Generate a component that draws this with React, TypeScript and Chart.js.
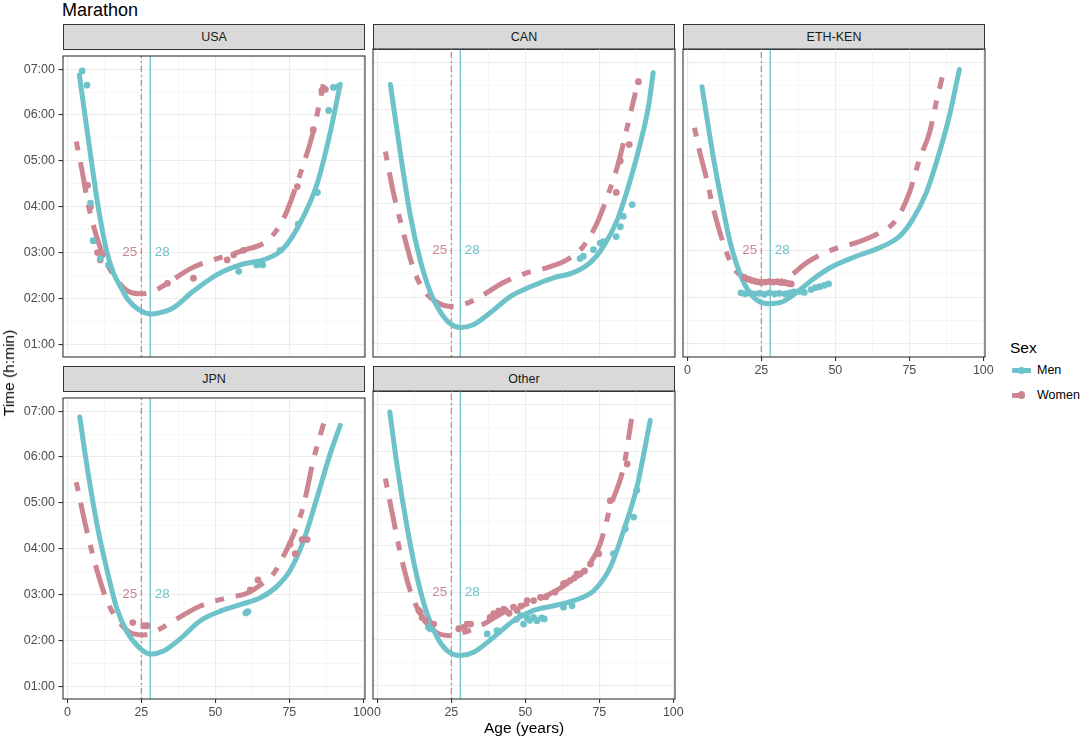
import React, { useEffect, useRef } from "react";
import { Chart, registerables } from "chart.js";

Chart.register(...registerables);

// ---------- style constants ----------
const MEN_COLOR = "#6DC3C9";
const WOMEN_COLOR = "#CC8591";
const FONT = "'Liberation Sans', Arial, Helvetica, sans-serif";

// ---------- axes ----------
const X_MIN = -1.48;
const X_MAX = 100.57;
const Y_MIN = 0.723;
const Y_MAX = 7.286;
const xTicks = [0, 12.5, 25, 37.5, 50, 62.5, 75, 87.5, 100];
const xMajorTicks = [0, 25, 50, 75, 100];
const yTicks = [1, 1.5, 2, 2.5, 3, 3.5, 4, 4.5, 5, 5.5, 6, 6.5, 7];
const yMajorTicks = [1, 2, 3, 4, 5, 6, 7];
const yTickLabels = ["01:00", "02:00", "03:00", "04:00", "05:00", "06:00", "07:00"];

// peak-performance ages and label height (h)
const WOMEN_PEAK_AGE = 25;
const MEN_PEAK_AGE = 28;
const PEAK_LABEL_TIME = 3.0;

// ---------- data: [age, time in hours] ----------
const usaMenCurve = [[4.05, 6.87], [6.1, 5.92], [8.0, 5.05], [10.4, 4.0], [13.2, 3.05], [15.6, 2.55], [18, 2.25], [20.2, 2.0], [24, 1.76], [28.6, 1.66], [32, 1.7], [35.9, 1.8], [42.6, 2.16], [50.6, 2.52], [58.4, 2.73], [67.5, 2.87], [72.9, 3.08], [78.7, 3.65], [84.4, 4.5], [88.9, 5.64], [92.2, 6.67]];
const usaWomenCurve = [[3.0, 5.42], [4.4, 4.98], [7.2, 4.0], [11.7, 3.0], [15.7, 2.5], [20.2, 2.17], [24.7, 2.1], [29.1, 2.16], [33.8, 2.33], [41.6, 2.65], [50.6, 2.87], [59.5, 3.05], [67.5, 3.26], [72.9, 3.72], [78.7, 4.72], [83.1, 5.64], [86.5, 6.67]];
const usaMenPoints = [[5, 6.96], [6.6, 6.65], [7.8, 4.08], [8.7, 3.26], [11.1, 2.87], [13.9, 2.73], [57.9, 2.59], [64, 2.73], [66, 2.73], [71.9, 3.05], [78, 3.62], [84.5, 4.31], [88.3, 6.1], [89.9, 6.6], [91.6, 6.62]];
const usaWomenPoints = [[6.8, 4.47], [7.8, 4.0], [9.5, 3.26], [10.2, 3.0], [11.1, 2.84], [11.8, 2.95], [33.8, 2.33], [42.6, 2.44], [54, 2.84], [56.2, 2.95], [59.5, 3.05], [77.7, 4.44], [83.1, 5.68], [86, 6.53], [87.2, 6.56]];

const canMenCurve = [[4.4, 6.53], [7.8, 5.05], [11.1, 3.75], [14.5, 2.78], [17.9, 2.1], [21.3, 1.68], [24.7, 1.43], [28, 1.35], [32.4, 1.41], [38.2, 1.67], [44.9, 2.01], [51.7, 2.22], [59.5, 2.41], [66.2, 2.52], [72, 2.74], [76.4, 3.08], [81.1, 3.65], [85.5, 4.5], [88.9, 5.29], [91.6, 6.06], [93.2, 6.78]];
const canWomenCurve = [[2.7, 5.1], [5.4, 4.23], [8.8, 3.37], [12.2, 2.6], [15.5, 2.16], [20.3, 1.88], [24.7, 1.8], [29.1, 1.84], [34.8, 2.01], [42.6, 2.31], [50.7, 2.52], [57.4, 2.63], [64.2, 2.8], [69.6, 3.08], [74.3, 3.59], [77.7, 4.14], [81.1, 4.78], [84.5, 5.64], [87.2, 6.36]];
const canMenPoints = [[68.5, 2.82], [69.6, 2.87], [73, 3.01], [75.3, 3.15], [76.4, 3.18], [80.7, 3.29], [82.1, 3.5], [83.1, 3.72], [86.1, 3.97]];
const canWomenPoints = [[80.7, 4.23], [82.1, 4.9], [85.1, 5.25], [88.2, 6.59]];

const ethMenCurve = [[4.95, 6.48], [7.4, 5.5], [9.7, 4.65], [11.9, 3.93], [14.2, 3.23], [16.9, 2.65], [19.8, 2.22], [23.2, 1.95], [27.7, 1.86], [32.1, 1.9], [36.8, 2.09], [42.2, 2.37], [49, 2.65], [57.1, 2.87], [64.9, 3.05], [71.6, 3.29], [76.1, 3.65], [80.7, 4.22], [85.1, 5.07], [88.5, 5.85], [91.9, 6.85]];
const ethWomenCurve = [[2.4, 5.61], [4, 5.14], [6.8, 4.44], [8.4, 3.98], [12.5, 3.08], [15.9, 2.59], [19.9, 2.4], [24.3, 2.31], [30.1, 2.31], [34.5, 2.44], [40.2, 2.73], [49, 3.01], [57.1, 3.16], [64.9, 3.37], [70.6, 3.65], [75, 4.22], [78.4, 4.93], [81.8, 5.5], [84.1, 6.15], [86.1, 6.68]];
const ethMenPoints = [[18.1, 2.09], [19.5, 2.07], [20.9, 2.09], [22.5, 2.07], [24.3, 2.08], [26, 2.06], [27.7, 2.09], [29.5, 2.07], [31.1, 2.08], [33, 2.07], [34.5, 2.09], [36, 2.11], [37.8, 2.12], [39.5, 2.1], [41.8, 2.16], [43.2, 2.2], [44.7, 2.22], [46.3, 2.25], [47.7, 2.28]];
const ethWomenPoints = [[19.3, 2.42], [20.7, 2.38], [22.1, 2.35], [23.5, 2.33], [24.9, 2.31], [26.3, 2.32], [27.7, 2.33], [29, 2.32], [30.4, 2.33], [31.6, 2.31], [32.7, 2.31], [34, 2.29], [35.1, 2.28]];

const jpnMenCurve = [[4.2, 6.87], [6.6, 5.81], [10, 4.53], [13.4, 3.53], [16.8, 2.68], [20.2, 2.18], [24.7, 1.82], [28, 1.7], [32.5, 1.77], [38.2, 2.04], [44.9, 2.43], [51.7, 2.64], [58.4, 2.78], [65.2, 2.93], [70.8, 3.18], [75.3, 3.53], [79.8, 4.17], [84.3, 5.1], [88.9, 6.09], [92.2, 6.69]];
const jpnWomenCurve = [[3.0, 5.45], [6.6, 4.38], [10, 3.53], [13.4, 2.86], [16.8, 2.46], [21.3, 2.17], [25.8, 2.12], [30.3, 2.22], [37, 2.47], [44.9, 2.75], [54, 2.93], [60.7, 3.03], [65.2, 3.21], [69.7, 3.46], [73.1, 3.85], [76.5, 4.32], [79.8, 4.95], [83.2, 5.95], [86.6, 6.73]];
const jpnMenPoints = [[60.3, 2.6], [61, 2.63]];
const jpnWomenPoints = [[22.1, 2.39], [25.8, 2.32], [26.9, 2.32], [61.8, 3.1], [64.4, 3.32], [75.3, 4.1], [77, 3.89], [79.3, 4.2], [81, 4.2]];

const othMenCurve = [[4.2, 6.84], [6.6, 5.72], [10, 4.4], [13.4, 3.32], [16.8, 2.54], [20.2, 2.04], [23.5, 1.76], [28, 1.65], [32.5, 1.72], [39.3, 2.04], [46, 2.39], [52.8, 2.61], [59.6, 2.71], [66.3, 2.82], [73.1, 3.03], [78.7, 3.53], [83.2, 4.31], [87.7, 5.24], [92.2, 6.66]];
const othWomenCurve = [[2.7, 5.42], [4.4, 4.88], [7.8, 3.82], [11.1, 3.03], [14.5, 2.54], [19, 2.18], [24.7, 2.07], [29.2, 2.14], [35.9, 2.32], [43.8, 2.61], [50.6, 2.75], [57.3, 2.93], [64.1, 3.18], [70.8, 3.53], [75.3, 4.03], [78.7, 4.81], [83.2, 5.66], [85.9, 6.69]];
const othMenPoints = [[17.3, 2.25], [17.9, 2.22], [37.1, 2.11], [40.4, 2.18], [47, 2.42], [48.3, 2.5], [49.4, 2.32], [50.6, 2.45], [51.5, 2.4], [52.8, 2.46], [53.9, 2.39], [55.5, 2.45], [56.4, 2.43], [62.9, 2.68], [65.8, 2.71], [79.8, 3.82], [83.8, 4.35], [86.6, 4.6], [87.7, 5.17]];
const othWomenPoints = [[14, 2.61], [14.5, 2.57], [15.1, 2.46], [16.2, 2.4], [19, 2.32], [27.5, 2.22], [29.2, 2.25], [30.3, 2.32], [31.5, 2.32], [38.1, 2.46], [39.3, 2.54], [41, 2.6], [42.7, 2.64], [44.5, 2.55], [46, 2.68], [47.2, 2.61], [48.5, 2.7], [50.6, 2.82], [52.8, 2.82], [55.1, 2.89], [57, 2.9], [60, 3.0], [62.9, 3.18], [64, 3.2], [65.2, 3.25], [66.5, 3.3], [67.4, 3.39], [68.6, 3.39], [70, 3.45], [72, 3.6], [74.8, 3.82], [78.7, 4.95], [84.4, 5.73]];

const facetNames = ["USA", "CAN", "ETH-KEN", "JPN", "Other"];
const sexLabels = ["Men", "Women"];

// ---------- layout ----------
const COL_LEFT = [63, 373, 683];
const ROW_TOP = [49, 391];
const PANEL_W = 302;
const PANEL_H = 308;
const STRIP_H = 25;
const RM = 14;
const TM = 4;
const BM = 26;

type Pair = number[];
interface PanelDef {
  name: string;
  col: number;
  row: number;
  men: Pair[];
  women: Pair[];
  menPts: Pair[];
  womenPts: Pair[];
  showY: boolean;
  showX: boolean;
}

const panels: PanelDef[] = [
  { name: facetNames[0], col: 0, row: 0, men: usaMenCurve, women: usaWomenCurve, menPts: usaMenPoints, womenPts: usaWomenPoints, showY: true, showX: false },
  { name: facetNames[1], col: 1, row: 0, men: canMenCurve, women: canWomenCurve, menPts: canMenPoints, womenPts: canWomenPoints, showY: false, showX: false },
  { name: facetNames[2], col: 2, row: 0, men: ethMenCurve, women: ethWomenCurve, menPts: ethMenPoints, womenPts: ethWomenPoints, showY: false, showX: true },
  { name: facetNames[3], col: 0, row: 1, men: jpnMenCurve, women: jpnWomenCurve, menPts: jpnMenPoints, womenPts: jpnWomenPoints, showY: true, showX: true },
  { name: facetNames[4], col: 1, row: 1, men: othMenCurve, women: othWomenCurve, menPts: othMenPoints, womenPts: othWomenPoints, showY: false, showX: true },
];

const toXY = (arr: Pair[]) => arr.map(([x, y]) => ({ x, y }));
const isMajorX = (v: number) => xMajorTicks.includes(v);
const isMajorY = (v: number) => yMajorTicks.includes(v);

const panelDecor = {
  id: "panelDecor",
  afterDatasetsDraw(chart: any) {
    const { ctx, chartArea: a, scales } = chart;
    const xs = scales.x;
    const ys = scales.y;
    ctx.save();
    ctx.beginPath();
    ctx.rect(a.left, a.top, a.right - a.left, a.bottom - a.top);
    ctx.clip();
    ctx.font = `13.5px ${FONT}`;
    ctx.textBaseline = "middle";
    const ty = ys.getPixelForValue(PEAK_LABEL_TIME);
    ctx.fillStyle = WOMEN_COLOR;
    ctx.textAlign = "right";
    ctx.fillText(String(WOMEN_PEAK_AGE), xs.getPixelForValue(WOMEN_PEAK_AGE) - 4, ty);
    ctx.fillStyle = MEN_COLOR;
    ctx.textAlign = "left";
    ctx.fillText(String(MEN_PEAK_AGE), xs.getPixelForValue(MEN_PEAK_AGE) + 4.5, ty);
    ctx.restore();
  },
  afterDraw(chart: any) {
    const { ctx, chartArea: a } = chart;
    ctx.save();
    ctx.strokeStyle = "#333333";
    ctx.lineWidth = 1.1;
    ctx.strokeRect(a.left, a.top, a.right - a.left, a.bottom - a.top);
    ctx.restore();
  },
};

function Panel({ p }: { p: PanelDef }) {
  const ref = useRef<HTMLCanvasElement | null>(null);
  const LM = p.showY ? 52 : 8;
  const W = LM + PANEL_W + RM;
  const H = TM + PANEL_H + BM;
  const left = COL_LEFT[p.col] - LM;
  const top = ROW_TOP[p.row] - TM;

  useEffect(() => {
    const canvas = ref.current;
    if (!canvas) return;
    const chart = new Chart(canvas, {
      type: "scatter",
      data: {
        datasets: [
          { type: "scatter", label: sexLabels[0] + " points", data: toXY(p.menPts), backgroundColor: MEN_COLOR, borderWidth: 0, pointRadius: 3.4 },
          { type: "scatter", label: sexLabels[1] + " points", data: toXY(p.womenPts), backgroundColor: WOMEN_COLOR, borderWidth: 0, pointRadius: 3.4 },
          { type: "line", label: sexLabels[0], data: toXY(p.men), borderColor: MEN_COLOR, borderWidth: 5, pointRadius: 0, showLine: true, fill: false, cubicInterpolationMode: "monotone", borderCapStyle: "round", borderJoinStyle: "round" },
          { type: "line", label: sexLabels[1], data: toXY(p.women), borderColor: WOMEN_COLOR, borderWidth: 5, pointRadius: 0, showLine: true, fill: false, cubicInterpolationMode: "monotone", borderDash: [9, 12, 31, 12], borderCapStyle: "butt" },
          { type: "line", label: "men peak", data: [{ x: MEN_PEAK_AGE, y: Y_MIN }, { x: MEN_PEAK_AGE, y: Y_MAX }], borderColor: MEN_COLOR, borderWidth: 1.3, pointRadius: 0, showLine: true, fill: false },
          { type: "line", label: "women peak", data: [{ x: WOMEN_PEAK_AGE, y: Y_MIN }, { x: WOMEN_PEAK_AGE, y: Y_MAX }], borderColor: WOMEN_COLOR, borderWidth: 1.3, pointRadius: 0, showLine: true, fill: false, borderDash: [2, 3, 6, 3] },
        ] as any,
      },
      options: {
        animation: false,
        responsive: false,
        maintainAspectRatio: false,
        events: [],
        layout: {
          padding: { left: p.showY ? 0 : LM, right: RM, top: TM, bottom: p.showX ? 0 : BM },
        },
        plugins: { legend: { display: false }, tooltip: { enabled: false }, title: { display: false } },
        scales: {
          x: {
            type: "linear",
            min: X_MIN,
            max: X_MAX,
            afterBuildTicks: (s: any) => {
              s.ticks = xTicks.map((v) => ({ value: v }));
            },
            afterFit: (s: any) => {
              s.height = p.showX ? BM : 0;
            },
            border: { display: false },
            grid: {
              display: true,
              drawTicks: p.showX,
              tickLength: 4,
              tickWidth: 1.1,
              tickColor: (c: any) => (c.tick && isMajorX(c.tick.value) ? "#333333" : "rgba(0,0,0,0)"),
              color: (c: any) => (c.tick && isMajorX(c.tick.value) ? "#EBEBEB" : "#F1F1F1"),
              lineWidth: (c: any) => (c.tick && isMajorX(c.tick.value) ? 1.1 : 0.6),
            },
            ticks: {
              display: p.showX,
              autoSkip: false,
              maxRotation: 0,
              minRotation: 0,
              padding: 2,
              color: "#4D4D4D",
              font: { family: FONT, size: 12.5 },
              callback: (v: any) => (isMajorX(Number(v)) ? String(v) : ""),
            },
          },
          y: {
            type: "linear",
            min: Y_MIN,
            max: Y_MAX,
            afterBuildTicks: (s: any) => {
              s.ticks = yTicks.map((v) => ({ value: v }));
            },
            afterFit: (s: any) => {
              s.width = p.showY ? LM : 0;
            },
            border: { display: false },
            grid: {
              display: true,
              drawTicks: p.showY,
              tickLength: 4.5,
              tickWidth: 1.1,
              tickColor: (c: any) => (c.tick && isMajorY(c.tick.value) ? "#333333" : "rgba(0,0,0,0)"),
              color: (c: any) => (c.tick && isMajorY(c.tick.value) ? "#EBEBEB" : "#F1F1F1"),
              lineWidth: (c: any) => (c.tick && isMajorY(c.tick.value) ? 1.1 : 0.6),
            },
            ticks: {
              display: p.showY,
              autoSkip: false,
              padding: 3.5,
              color: "#4D4D4D",
              font: { family: FONT, size: 12.5 },
              callback: (v: any) => {
                const i = yMajorTicks.indexOf(Number(v));
                return i >= 0 ? yTickLabels[i] : "";
              },
            },
          },
        },
      } as any,
      plugins: [panelDecor],
    });
    return () => chart.destroy();
  }, []);

  return (
    <>
      <div
        style={{
          position: "absolute",
          left: COL_LEFT[p.col],
          top: ROW_TOP[p.row] - STRIP_H,
          width: PANEL_W,
          height: STRIP_H + 1,
          boxSizing: "border-box",
          background: "#D9D9D9",
          border: "1.1px solid #333333",
          textAlign: "center",
          fontSize: 12.5,
          lineHeight: `${STRIP_H - 1}px`,
          color: "#1A1A1A",
        }}
      >
        {p.name}
      </div>
      <canvas
        ref={ref}
        width={W}
        height={H}
        style={{ position: "absolute", left, top, width: W, height: H }}
      />
    </>
  );
}

export default function App() {
  return (
    <div
      style={{
        position: "absolute",
        left: 0,
        top: 0,
        width: 1082,
        height: 740,
        background: "#ffffff",
        fontFamily: FONT,
        overflow: "hidden",
      }}
    >
      <div style={{ position: "absolute", left: 62, top: 0, fontSize: 18, lineHeight: "20px", color: "#000" }}>
        Marathon
      </div>
      {panels.map((p) => (
        <Panel key={p.name} p={p} />
      ))}
      <div
        style={{
          position: "absolute",
          left: 63,
          width: 922,
          top: 719,
          textAlign: "center",
          fontSize: 15.5,
          lineHeight: "18px",
          color: "#000",
        }}
      >
        Age (years)
      </div>
      <div
        style={{
          position: "absolute",
          left: 9,
          top: 373,
          transform: "translate(-50%, -50%) rotate(-90deg)",
          whiteSpace: "nowrap",
          fontSize: 15.5,
          lineHeight: "18px",
          color: "#000",
        }}
      >
        Time (h:min)
      </div>
      {/* legend */}
      <div style={{ position: "absolute", left: 1010, top: 339, fontSize: 15.5, lineHeight: "18px", color: "#000" }}>
        Sex
      </div>
      <div style={{ position: "absolute", left: 1012, top: 368.2, width: 19, height: 5, background: MEN_COLOR, borderRadius: 1 }} />
      <div style={{ position: "absolute", left: 1018, top: 367, width: 7, height: 7, background: MEN_COLOR, borderRadius: "50%" }} />
      <div style={{ position: "absolute", left: 1037, top: 363, fontSize: 12.5, lineHeight: "15px", color: "#000" }}>
        {sexLabels[0]}
      </div>
      <div style={{ position: "absolute", left: 1012, top: 392.5, width: 10, height: 5, background: WOMEN_COLOR }} />
      <div style={{ position: "absolute", left: 1017.5, top: 391.2, width: 7.6, height: 7.6, background: WOMEN_COLOR, borderRadius: "50%" }} />
      <div style={{ position: "absolute", left: 1037, top: 387.5, fontSize: 12.5, lineHeight: "15px", color: "#000" }}>
        {sexLabels[1]}
      </div>
    </div>
  );
}
